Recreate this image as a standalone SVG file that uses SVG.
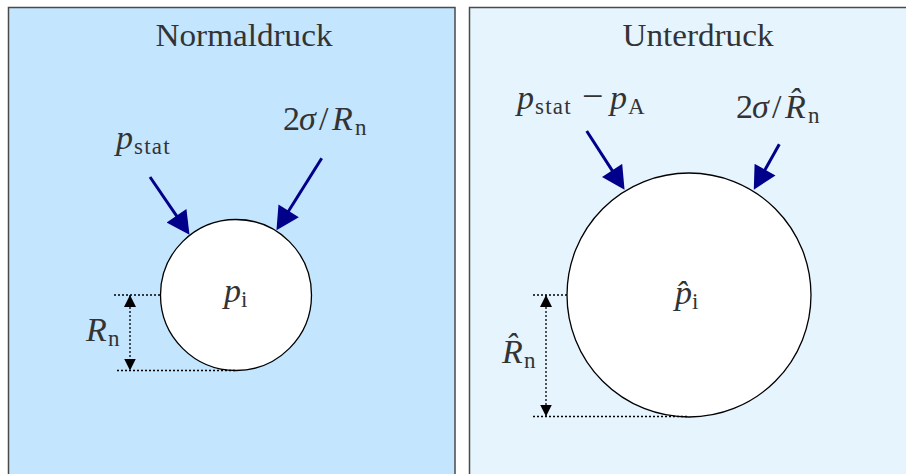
<svg xmlns="http://www.w3.org/2000/svg" width="906" height="474" viewBox="0 0 906 474">
<style>
.panel{stroke:#4a4a4a;stroke-width:1.5}
.bubble{fill:#ffffff;stroke:#000000;stroke-width:1.3}
.t{font-family:"Liberation Serif","Times New Roman",serif;fill:#333333}
.title{font-size:32px}
.m{font-size:34px}
.i{font-style:italic}
.s{font-size:23px}
.force{stroke:#00008b;stroke-width:3;fill:none}
.dim{stroke:#000000;stroke-width:1.3;stroke-dasharray:2 2;fill:none}
</style>
<defs>
<marker id="bigHead" markerUnits="userSpaceOnUse" markerWidth="24" markerHeight="24" viewBox="0 0 22 23" refX="12" refY="11.5" orient="auto">
<path d="M0,0 L22,11.5 L0,23 z" fill="#00008b"/>
</marker>
<marker id="smallHead" markerUnits="userSpaceOnUse" markerWidth="12" markerHeight="12" viewBox="0 0 11 11" refX="11" refY="5.5" orient="auto-start-reverse">
<path d="M0,0 L11,5.5 L0,11 z" fill="#000000"/>
</marker>
</defs>

<g id="panel-normal">
<rect class="panel" x="8.5" y="7.5" width="446.5" height="480" fill="#c3e5fd"/>
<text class="t title" x="244" y="46" text-anchor="middle" textLength="177" lengthAdjust="spacingAndGlyphs">Normaldruck</text>
</g>
<g id="panel-unter">
<rect class="panel" x="469.5" y="7.5" width="450" height="480" fill="#e6f4fe"/>
<text class="t title" x="698" y="46" text-anchor="middle" textLength="151" lengthAdjust="spacingAndGlyphs">Unterdruck</text>
</g>

<g id="bubble-normal">
<circle class="bubble" cx="236" cy="295" r="75.5"/>
<text class="t m" y="302"><tspan class="i" x="224">p</tspan><tspan class="s" x="241" dy="5">i</tspan></text>
</g>
<g id="bubble-unter">
<circle class="bubble" cx="689" cy="295" r="122"/>
<text class="t m" y="304"><tspan class="i" x="675">p̂</tspan><tspan class="s" x="692" dy="5">i</tspan></text>
</g>

<g id="labels-normal">
<text id="lbl-pstat" class="t m" y="149"><tspan class="i" x="116">p</tspan><tspan class="s" x="134" dy="5" letter-spacing="1.2">stat</tspan></text>
<text id="lbl-sigma" class="t m" y="130"><tspan x="283">2</tspan><tspan class="i" x="299">σ</tspan><tspan x="319">/</tspan><tspan class="i" x="332">R</tspan><tspan class="s" x="355" dy="5">n</tspan></text>
<text id="lbl-Rn" class="t m" y="341"><tspan class="i" x="86">R</tspan><tspan class="s" x="108" dy="5">n</tspan></text>
</g>
<g id="labels-unter">
<text id="lbl-pstat-pA" class="t m" y="109"><tspan class="i" x="517">p</tspan><tspan class="s" x="535" dy="5" letter-spacing="1.2">stat</tspan><tspan x="582" dy="-5" font-size="38">−</tspan><tspan class="i" x="610">p</tspan><tspan class="s" x="628" dy="5">A</tspan></text>
<text id="lbl-sigma-hat" class="t m" y="118"><tspan x="736">2</tspan><tspan class="i" x="752">σ</tspan><tspan x="772">/</tspan><tspan class="i" x="785">R̂</tspan><tspan class="s" x="808" dy="5">n</tspan></text>
<text id="lbl-Rn-hat" class="t m" y="363"><tspan class="i" x="502">R̂</tspan><tspan class="s" x="524" dy="5">n</tspan></text>
</g>

<g id="connectors">
<line class="force" x1="150" y1="177" x2="183.6" y2="226.1" marker-end="url(#bigHead)"/>
<line class="force" x1="321.7" y1="158.3" x2="282" y2="221.5" marker-end="url(#bigHead)"/>
<line class="force" x1="586.7" y1="131" x2="618.9" y2="180.9" marker-end="url(#bigHead)"/>
<line class="force" x1="779.3" y1="144.3" x2="758.9" y2="180.6" marker-end="url(#bigHead)"/>

<line class="dim" x1="114" y1="295" x2="160" y2="295"/>
<line class="dim" x1="117" y1="370.5" x2="236" y2="370.5"/>
<line class="dim" x1="130" y1="295" x2="130" y2="370.5" marker-start="url(#smallHead)" marker-end="url(#smallHead)"/>

<line class="dim" x1="533" y1="295" x2="567" y2="295"/>
<line class="dim" x1="533" y1="416.5" x2="689" y2="416.5"/>
<line class="dim" x1="546" y1="295" x2="546" y2="416.5" marker-start="url(#smallHead)" marker-end="url(#smallHead)"/>
</g>
</svg>
